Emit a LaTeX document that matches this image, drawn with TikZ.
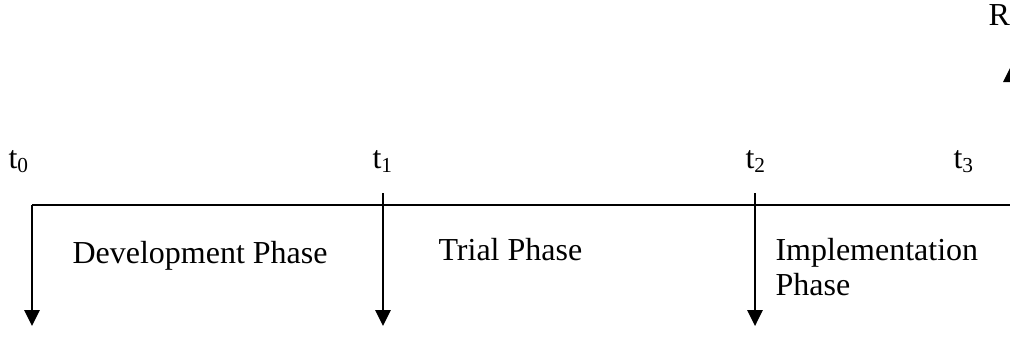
\documentclass[tikz,border=0pt]{standalone}
\usepackage{fontspec}
\setmainfont{Liberation Serif}
\usepackage{tikz}
\usetikzlibrary{arrows.meta}
\tikzset{
  phase/.style={
    inner sep=0pt,
    align=left,
    font=\fontsize{12}{13.1}\selectfont
  },
  tick/.style={
    inner sep=0pt,
    anchor=base west,
    font=\fontsize{12}{13.1}\selectfont
  },
  arrow/.style={
    -{Triangle[length=6pt,width=5.8pt]},
    line width=.6pt,
    black
  }
}
\begin{document}
\begin{tikzpicture}[x=.375pt,y=-.375pt]
\useasboundingbox (0,0) rectangle (1010,341);
\coordinate (a0) at (32,205);
\coordinate (a1) at (383,193);
\coordinate (a2) at (755,193);
\coordinate (e) at (1011,205);
\coordinate (d0) at (32,326);
\coordinate (d1) at (383,326);
\coordinate (d2) at (755,326);
\coordinate (up) at (1011,66);
\node[tick] (t0) at (8,168) {t\textsubscript{0}};
\node[tick] (t1) at (372,168) {t\textsubscript{1}};
\node[tick] (t2) at (745,168) {t\textsubscript{2}};
\node[tick] (t3) at (953,168) {t\textsubscript{3}};
\node[tick] (r) at (988,25) {R};
\node[phase, anchor=base west] (dev) at (72,263) {Development Phase};
\node[phase, anchor=base west] (trial) at (438,260) {Trial Phase};
\node[phase, anchor=north west] (impl) at (775,238) {Implementation\\Phase};
\draw[line width=.6pt] (a0) -- (e);
\draw[arrow] (a0) -- (d0);
\draw[arrow] (a1) -- (d1);
\draw[arrow] (a2) -- (d2);
\draw[arrow] (e) -- (up);
\end{tikzpicture}
\end{document}
